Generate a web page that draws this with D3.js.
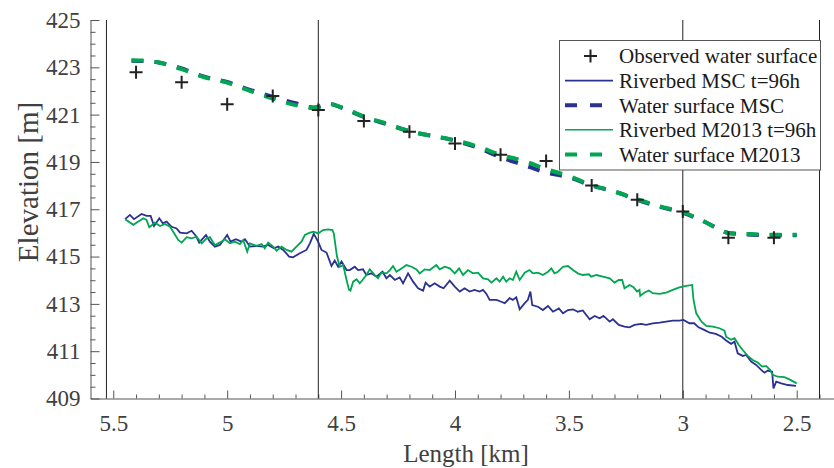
<!DOCTYPE html>
<html>
<head>
<meta charset="utf-8">
<script src="https://cdn.jsdelivr.net/npm/d3@7"></script>
<style>
  body { margin: 0; background: #fff; }
  svg text { font-family: "Liberation Serif", "Times New Roman", serif; fill: #404040; }
</style>
</head>
<body>
<div id="chart"></div>
<script>
// observed water surface (km, m)
const obsKm = [5.4, 5.2, 5.0, 4.8, 4.6, 4.4, 4.2, 4.0, 3.8, 3.6, 3.4, 3.2, 3.0, 2.8, 2.6];
const obsZ = [422.79, 422.37, 421.44, 421.79, 421.2, 420.73, 420.28, 419.78, 419.3, 419.04, 418.0, 417.4, 416.9, 415.8, 415.8];

// simulated water surface
const wsKm = [5.42, 5.35, 5.3, 5.2, 5.1, 5.0, 4.9, 4.8, 4.7, 4.62, 4.55, 4.5, 4.4, 4.3, 4.2, 4.1, 4.0, 3.9, 3.8, 3.7, 3.6, 3.5, 3.4, 3.3, 3.2, 3.1, 3.0, 2.9, 2.85, 2.8, 2.7, 2.6, 2.5];
const wsMSC = [423.28, 423.26, 423.2, 422.95, 422.6, 422.38, 422.05, 421.75, 421.48, 421.3, 421.45, 421.3, 420.9, 420.6, 420.3, 420.1, 419.9, 419.6, 419.2, 418.88, 418.55, 418.35, 418.0, 417.75, 417.4, 417.1, 416.85, 416.45, 416.2, 416.0, 415.92, 415.9, 415.9];
const wsM2013 = [423.3, 423.28, 423.2, 422.92, 422.58, 422.35, 422.0, 421.68, 421.4, 421.28, 421.45, 421.32, 420.92, 420.62, 420.3, 420.1, 419.92, 419.65, 419.3, 419.05, 418.7, 418.4, 418.02, 417.75, 417.42, 417.12, 416.88, 416.45, 416.2, 416.0, 415.95, 415.92, 415.92];

// riverbed MSC t=96h
const bedMSCKm = [5.448, 5.427, 5.409, 5.376, 5.354, 5.336, 5.321, 5.298, 5.283, 5.266, 5.244, 5.222, 5.207, 5.178, 5.156, 5.137, 5.123, 5.093, 5.076, 5.054,
  5.032, 5.0, 4.985, 4.962, 4.937, 4.922, 4.9, 4.871, 4.845, 4.82, 4.795, 4.776, 4.754, 4.728, 4.711, 4.681, 4.652, 4.637, 4.62, 4.601,
  4.586, 4.564, 4.542, 4.528, 4.513, 4.498, 4.476, 4.462, 4.44, 4.425, 4.404, 4.389, 4.367, 4.345, 4.318, 4.301, 4.286, 4.264, 4.243, 4.228,
  4.206, 4.184, 4.162, 4.14, 4.129, 4.111, 4.089, 4.067, 4.05, 4.023, 4.001, 3.979, 3.958, 3.936, 3.914, 3.892, 3.877, 3.862, 3.848, 3.818,
  3.797, 3.782, 3.76, 3.746, 3.731, 3.716, 3.694, 3.68, 3.669, 3.661, 3.636, 3.614, 3.592, 3.57, 3.544, 3.526, 3.504, 3.482, 3.461, 3.439,
  3.409, 3.387, 3.365, 3.348, 3.321, 3.307, 3.281, 3.256, 3.234, 3.212, 3.183, 3.161, 3.132, 3.102, 3.073, 3.044, 3.015, 2.997, 2.971, 2.95,
  2.931, 2.906, 2.881, 2.855, 2.829, 2.81, 2.788, 2.773, 2.759, 2.737, 2.722, 2.7, 2.678, 2.656, 2.641, 2.627, 2.608, 2.602, 2.59, 2.568,
  2.539, 2.503];
const bedMSCZ = [416.58, 416.76, 416.58, 416.8, 416.72, 416.72, 416.29, 416.62, 416.41, 416.48, 416.26, 416.19, 416.01, 415.98, 416.09, 415.87, 415.59, 415.91, 415.63, 415.42,
  415.49, 415.91, 415.63, 415.73, 415.63, 415.73, 415.42, 415.45, 415.42, 415.49, 415.35, 415.42, 415.28, 415.0, 414.97, 415.14, 415.28, 415.56, 415.96, 415.63,
  415.28, 415.17, 414.6, 414.83, 414.57, 414.79, 414.43, 414.43, 414.57, 414.43, 414.46, 414.22, 414.29, 414.15, 414.36, 414.08, 414.22, 414.01, 414.12, 413.87,
  414.29, 413.94, 413.66, 413.56, 413.9, 413.73, 413.87, 413.73, 413.66, 413.98, 413.73, 413.52, 413.66, 413.52, 413.59, 413.52, 413.59, 413.42, 413.17, 413.17,
  413.09, 413.03, 413.24, 413.17, 413.28, 412.77, 413.03, 413.17, 413.52, 412.95, 412.88, 412.74, 412.91, 412.67, 412.81, 412.6, 412.74, 412.77, 412.67, 412.72,
  412.35, 412.49, 412.39, 412.49, 412.25, 412.35, 412.11, 412.04, 412.01, 412.11, 412.15, 412.11, 412.18, 412.21, 412.25, 412.29, 412.29, 412.32, 412.18, 412.18,
  412.01, 411.9, 411.78, 411.73, 411.61, 411.45, 411.31, 411.4, 410.91, 410.8, 410.84, 410.56, 410.42, 410.21, 410.09, 410.18, 410.13, 409.43, 409.71, 409.64,
  409.57, 409.53];

// riverbed M2013 t=96h
const bedM13Km = [5.448, 5.412, 5.39, 5.368, 5.354, 5.342, 5.317, 5.295, 5.273, 5.251, 5.237, 5.215, 5.2, 5.178, 5.156, 5.134, 5.112, 5.09, 5.076, 5.054,
  5.025, 5.01, 4.988, 4.966, 4.944, 4.93, 4.912, 4.9, 4.871, 4.849, 4.835, 4.82, 4.798, 4.783, 4.761, 4.739, 4.718, 4.696, 4.674, 4.659,
  4.637, 4.62, 4.601, 4.579, 4.557, 4.538, 4.532, 4.518, 4.506, 4.491, 4.476, 4.465, 4.459, 4.447, 4.432, 4.418, 4.406, 4.389, 4.374, 4.352,
  4.338, 4.323, 4.301, 4.286, 4.272, 4.257, 4.235, 4.213, 4.191, 4.169, 4.155, 4.133, 4.111, 4.082, 4.067, 4.045, 4.023, 4.001, 3.982, 3.965,
  3.943, 3.921, 3.899, 3.877, 3.855, 3.84, 3.818, 3.804, 3.789, 3.775, 3.76, 3.746, 3.731, 3.716, 3.694, 3.673, 3.658, 3.636, 3.614, 3.592,
  3.577, 3.563, 3.548, 3.526, 3.504, 3.482, 3.461, 3.439, 3.412, 3.402, 3.38, 3.351, 3.321, 3.3, 3.281, 3.266, 3.256, 3.234, 3.216, 3.201,
  3.19, 3.187, 3.168, 3.149, 3.132, 3.102, 3.073, 3.044, 3.015, 2.985, 2.959, 2.953, 2.941, 2.918, 2.897, 2.868, 2.839, 2.817, 2.81, 2.788,
  2.773, 2.754, 2.737, 2.715, 2.693, 2.671, 2.652, 2.634, 2.617, 2.605, 2.583, 2.554, 2.532, 2.5];
const bedM13Z = [416.58, 416.34, 416.48, 416.62, 416.55, 416.24, 416.43, 416.29, 416.38, 416.26, 416.05, 415.7, 415.59, 415.82, 415.77, 415.84, 415.56, 415.77, 415.82, 415.49,
  415.63, 415.73, 415.56, 415.63, 415.53, 415.7, 415.21, 415.56, 415.45, 415.53, 415.35, 415.59, 415.42, 415.25, 415.42, 415.28, 415.21, 415.42, 415.63, 415.91,
  416.01, 416.05, 415.98, 416.12, 416.15, 416.12, 415.98, 415.0, 414.57, 414.64, 414.01, 413.59, 413.56, 413.94, 414.04, 413.87, 414.01, 414.22, 414.46, 414.22,
  414.08, 414.32, 414.29, 414.43, 414.6, 414.36, 414.5, 414.64, 414.57, 414.46, 414.29, 414.46, 414.43, 414.64, 414.46, 414.57, 414.5, 414.29, 414.5, 414.22,
  414.43, 414.29, 414.32, 414.08, 414.04, 413.9, 414.08, 413.94, 414.15, 413.94, 414.08, 414.01, 414.36, 414.01, 414.32, 414.43, 414.29, 414.32, 414.22, 414.36,
  414.5, 414.29, 414.36, 414.57, 414.6, 414.43, 414.29, 414.22, 414.25, 414.15, 414.22, 414.15, 414.08, 413.9, 414.01, 414.01, 413.66, 413.8, 413.7, 413.52,
  413.59, 413.34, 413.48, 413.56, 413.45, 413.42, 413.48, 413.59, 413.7, 413.76, 413.8, 413.17, 412.6, 412.25, 412.07, 412.04, 411.97, 411.87, 411.61, 411.48,
  411.55, 411.26, 411.05, 410.8, 410.63, 410.52, 410.35, 410.38, 410.21, 410.0, 409.92, 409.9, 409.81, 409.64];

// vertical section lines
const sectionKm = [5.53, 4.6, 3.0, 2.4];

const xMajor = [5.5, 5, 4.5, 4, 3.5, 3, 2.5];
const yMajor = [409, 411, 413, 415, 417, 419, 421, 423, 425];

const blue = '#2b3190';
const green = '#00a651';
const serif = '"Liberation Serif", "Times New Roman", serif';

const width = 834, height = 468;
const svg = d3.select('#chart').append('svg')
  .attr('width', width)
  .attr('height', height);

const x = d3.scaleLinear().domain([5.6, 2.335]).range([90.5, 834.3]);
const y = d3.scaleLinear().domain([409, 425]).range([398.5, 20]);

const xMinor = d3.range(55, 23, -1).map(d => d / 10).filter(d => xMajor.indexOf(d) < 0);
const yMinor = d3.range(409, 425.01, 0.5).filter(d => yMajor.indexOf(d) < 0);

// axes
const xAxisG = svg.append('g').attr('transform', 'translate(0,' + y(409) + ')');
xAxisG.call(d3.axisBottom(x).tickValues(xMajor).tickSizeInner(-8).tickSizeOuter(0).tickPadding(16).tickFormat(d3.format('')));
xAxisG.append('g').call(d3.axisBottom(x).tickValues(xMinor).tickSizeInner(-4).tickSizeOuter(0).tickFormat(''))
  .select('.domain').remove();

const yAxisG = svg.append('g').attr('transform', 'translate(90.5,0)');
yAxisG.call(d3.axisLeft(y).tickValues(yMajor).tickSizeInner(-9).tickSizeOuter(0).tickPadding(10));
yAxisG.append('g').call(d3.axisLeft(y).tickValues(yMinor).tickSizeInner(-5).tickSizeOuter(0).tickFormat(''))
  .select('.domain').remove();

svg.selectAll('g').attr('font-family', null).attr('font-size', null);
svg.selectAll('.domain').attr('stroke', '#555');
svg.selectAll('.tick line').attr('stroke', '#555');
svg.selectAll('.tick text')
  .style('font-family', serif)
  .style('font-size', '23px')
  .style('fill', '#404040');

// section lines
svg.selectAll('.section').data(sectionKm).enter().append('line')
  .attr('x1', d => x(d)).attr('x2', d => x(d))
  .attr('y1', y(425)).attr('y2', y(409))
  .attr('stroke', '#222').attr('stroke-width', 1);

const line = d3.line().x(d => x(d[0])).y(d => y(d[1]));
const zip = (a, b) => a.map((v, i) => [v, b[i]]);

svg.append('path').datum(zip(bedMSCKm, bedMSCZ))
  .attr('d', line).attr('fill', 'none').attr('stroke', blue).attr('stroke-width', 1.8);
svg.append('path').datum(zip(bedM13Km, bedM13Z))
  .attr('d', line).attr('fill', 'none').attr('stroke', green).attr('stroke-width', 1.8);

const wsLine = d3.line().curve(d3.curveMonotoneX).x(d => x(d[0])).y(d => y(d[1]));
svg.append('path').datum(zip(wsKm, wsMSC))
  .attr('d', wsLine).attr('fill', 'none').attr('stroke', blue).attr('stroke-width', 4)
  .attr('stroke-dasharray', '12,11');
svg.append('path').datum(zip(wsKm, wsM2013))
  .attr('d', wsLine).attr('fill', 'none').attr('stroke', green).attr('stroke-width', 4)
  .attr('stroke-dasharray', '12,11');

// observed points as plus markers
svg.selectAll('.obs').data(zip(obsKm, obsZ)).enter().append('path')
  .attr('transform', d => 'translate(' + x(d[0]) + ',' + y(d[1]) + ')')
  .attr('d', 'M-6.5,0H6.5M0,-6.5V6.5')
  .attr('stroke', '#222').attr('stroke-width', 2);

// axis titles
svg.append('text')
  .attr('x', 466).attr('y', 462)
  .attr('text-anchor', 'middle')
  .style('font-size', '25px')
  .text('Length [km]');

svg.append('text')
  .attr('transform', 'translate(38,182) rotate(-90)')
  .attr('text-anchor', 'middle')
  .style('font-size', '29px')
  .text('Elevation [m]');

// legend
const legend = svg.append('g');
legend.append('rect')
  .attr('x', 559.5).attr('y', 40.5).attr('width', 261).attr('height', 129.5)
  .attr('fill', '#fff').attr('stroke', '#555').attr('stroke-width', 1);

const legendItems = [
  { label: 'Observed water surface', type: 'plus' },
  { label: 'Riverbed MSC t=96h', type: 'solid', color: blue },
  { label: 'Water surface MSC', type: 'dash', color: blue },
  { label: 'Riverbed M2013 t=96h', type: 'solid', color: green },
  { label: 'Water surface M2013', type: 'dash', color: green }
];

legendItems.forEach((item, i) => {
  const ly = 56 + i * 24.6;
  if (item.type === 'plus') {
    legend.append('path')
      .attr('d', 'M' + 584 + ',' + ly + 'H' + 597 + 'M' + 590.5 + ',' + (ly - 6.5) + 'V' + (ly + 6.5))
      .attr('stroke', '#222').attr('stroke-width', 2);
  } else {
    legend.append('line')
      .attr('x1', 565).attr('x2', 613).attr('y1', ly).attr('y2', ly)
      .attr('stroke', item.color)
      .attr('stroke-width', item.type === 'dash' ? 4 : 1.6)
      .attr('stroke-dasharray', item.type === 'dash' ? '12,13' : null);
  }
  legend.append('text')
    .attr('x', 619).attr('y', ly)
    .attr('dy', '0.35em')
    .style('font-size', '21px')
    .style('fill', '#1a1a1a')
    .text(item.label);
});
</script>
</body>
</html>
